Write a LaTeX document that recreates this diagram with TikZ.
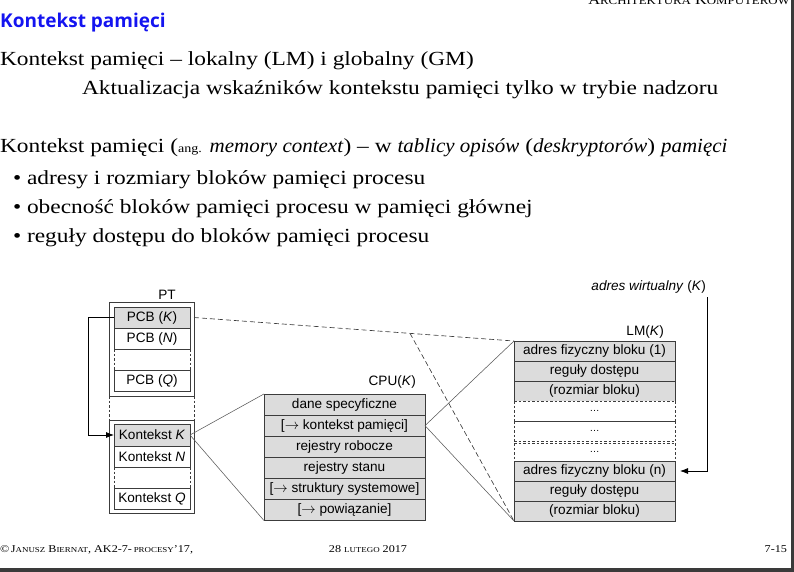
\documentclass[tikz,border=0pt]{standalone}
\usepackage{fontspec}
\setmainfont{Liberation Serif}[UprightFeatures={FakeStretch=1.17},ItalicFeatures={FakeStretch=1.05}]
\newfontfamily\diagfont{Liberation Sans}
\newfontfamily\headfont{Open Sans}
\usetikzlibrary{calc,arrows.meta}
\definecolor{cellgray}{HTML}{DCDCDC}
\definecolor{inkgray}{HTML}{3C3C3C}
\definecolor{headblue}{HTML}{1414F0}
\definecolor{edgegray}{HTML}{3A3A3A}
\newcommand\bodysize{\fontsize{20}{24}\selectfont}
\newcommand\diagsize{\diagfont\fontsize{13.6}{15}\selectfont}
\newcommand\lowcaps[1]{{\fontsize{7.6}{9}\selectfont #1}}
\begin{document}
\begin{tikzpicture}[x=1pt,y=-1pt,
  txt/.style={anchor=base west,inner sep=0,outer sep=0,font=\bodysize},
  foot/.style={anchor=base west,inner sep=0,outer sep=0,font=\fontsize{10.4}{12}\selectfont},
  lbl/.style={inner sep=0,outer sep=0,font=\diagsize},
  frame/.style={draw=inkgray,line width=0.7pt,inner sep=0,outer sep=0,minimum width=85pt,minimum height=#1},
  ptcell/.style={line width=0.7pt,minimum width=76pt,minimum height=#1,inner sep=0,outer sep=0,font=\diagsize},
  widecell/.style={line width=0.7pt,minimum width=161pt,minimum height=#1,inner sep=0,outer sep=0,font=\diagsize},
  solidcell/.style={draw=inkgray,fill=cellgray},
  side/.style={draw=inkgray,line width=0.7pt,dash pattern=on 2.5pt off 2pt},
  edge/.style={draw=inkgray,line width=0.7pt},
  cone/.style={draw=inkgray!85,line width=0.55pt},
  conedash/.style={draw=inkgray,line width=0.65pt,dash pattern=on 5pt off 3pt},
  pointer/.style={draw=black,line width=0.8pt,-{Latex[length=8pt,width=6pt]}}
]
\useasboundingbox (0,0) rectangle (794,572);

% page frame
\fill[edgegray] (791,0) rectangle (794,572);
\fill[edgegray] (0,568) rectangle (794,572);

% running head
\node[anchor=base east,inner sep=0] (head) at (790,5)
  {\fontsize{14}{16}\selectfont A{\fontsize{11}{13}\selectfont RCHITEKTURA} K{\fontsize{11}{13}\selectfont OMPUTERÓW}};

% title
\node[anchor=base west,inner sep=0,text=headblue] (title) at (0,28)
  {\headfont\bfseries\fontsize{19}{22}\selectfont Kontekst pamięci};

% body text
\node[txt] (l1) at (0,66) {Kontekst pamięci – lokalny (LM) i globalny (GM)};
\node[txt] (l2) at (82,95) {Aktualizacja wskaźników kontekstu pamięci tylko w trybie nadzoru};
\node[txt] (l3) at (0,153) {Kontekst pamięci ({\fontsize{12}{14}\selectfont ang.} \textit{memory context}) – w \textit{tablicy opisów} (\textit{deskryptorów}) \textit{pamięci}};
\node[txt] (b1) at (13,184) {• adresy i rozmiary bloków pamięci procesu};
\node[txt] (b2) at (13,213) {• obecność bloków pamięci procesu w pamięci głównej};
\node[txt] (b3) at (13,242) {• reguły dostępu do bloków pamięci procesu};

% ---- process table PT ----
\node[lbl] (ptlabel) at (167,295) {PT};
\node[frame=94pt] (ptup) at (151.5,349) {};
\node[frame=93pt] (ptlow) at (151.5,466.5) {};
\draw[side] (ptup.south west) -- (ptlow.north west);
\draw[side] (ptup.south east) -- (ptlow.north east);

\node[ptcell=21pt,solidcell] (pcbK) at (152,317.5) {PCB (\textit{K})};
\node[ptcell=21pt,draw=inkgray] (pcbN) at (152,338.5) {PCB (\textit{N})};
\node[ptcell=21pt] (pcbE) at (152,359.5) {};
\node[ptcell=21pt,draw=inkgray] (pcbQ) at (152,380.5) {PCB (\textit{Q})};
\draw[side] (pcbE.north west) -- (pcbE.south west);
\draw[side] (pcbE.north east) -- (pcbE.south east);

\node[ptcell=22pt,solidcell] (ctxK) at (152,435) {Kontekst \textit{K}};
\node[ptcell=21pt,draw=inkgray] (ctxN) at (152,456.5) {Kontekst \textit{N}};
\node[ptcell=21pt] (ctxE) at (152,477.5) {};
\node[ptcell=21pt,draw=inkgray] (ctxQ) at (152,498.5) {Kontekst \textit{Q}};
\draw[side] (ctxE.north west) -- (ctxE.south west);
\draw[side] (ctxE.north east) -- (ctxE.south east);

% PCB points to its context
\draw[pointer] (pcbK.west) -- ++(-26,0) |- (ctxK.west);

% ---- CPU(K) context ----
\node[lbl,anchor=east] (cpulabel) at (416,382) {CPU(\textit{K})};
\node[widecell=21.1pt,solidcell] (cpu1) at (344.5,404.5) {dane specyficzne};
\node[widecell=21.1pt,solidcell] (cpu2) at (344.5,425.6) {[$\rightarrow$ kontekst pamięci]};
\node[widecell=21.1pt,solidcell] (cpu3) at (344.5,446.7) {rejestry robocze};
\node[widecell=21.1pt,solidcell] (cpu4) at (344.5,467.8) {rejestry stanu};
\node[widecell=21.1pt,solidcell] (cpu5) at (344.5,488.9) {[$\rightarrow$ struktury systemowe]};
\node[widecell=21.1pt,solidcell] (cpu6) at (344.5,510) {[$\rightarrow$ powiązanie]};

% ---- LM(K) descriptor table ----
\node[lbl,anchor=east] (lmlabel) at (664,332) {LM(\textit{K})};
\node[widecell=20pt,solidcell] (lm1) at (594.5,351) {adres fizyczny bloku (1)};
\node[widecell=20pt,solidcell] (lm2) at (594.5,371) {reguły dostępu};
\node[widecell=20pt,fill=cellgray] (lm3) at (594.5,391) {(rozmiar bloku)};
\draw[edge] (lm3.south west) -- (lm3.north west) -- (lm3.north east) -- (lm3.south east);
\node[widecell=20pt] (lm4) at (594.5,411) {\fontsize{10}{12}\selectfont …};
\node[widecell=20pt] (lm5) at (594.5,431) {\fontsize{10}{12}\selectfont …};
\node[widecell=18pt] (lm6) at (594.5,452) {\fontsize{10}{12}\selectfont …};
\draw[side] (lm4.north west) -- (lm4.north east);
\draw[side] (lm4.north west) -- (lm4.south west);
\draw[side] (lm4.north east) -- (lm4.south east);
\draw[edge] (lm5.north west) -- (lm5.north east);
\draw[side] (lm5.north west) -- (lm5.south west);
\draw[side] (lm5.north east) -- (lm5.south east);
\draw[side] (lm5.south west) -- (lm5.south east);
\draw[side] (lm6.north west) -- (lm6.north east);
\draw[side] (lm6.north west) -- (lm6.south west);
\draw[side] (lm6.north east) -- (lm6.south east);
\node[widecell=20pt,solidcell] (lmn) at (594.5,471) {adres fizyczny bloku (n)};
\node[widecell=20pt,solidcell] (lmr) at (594.5,491) {reguły dostępu};
\node[widecell=20pt,solidcell] (lms) at (594.5,511) {(rozmiar bloku)};

% virtual address selects a descriptor
\node[lbl,anchor=east] (vaddr) at (706,287) {\textit{adres wirtualny} (\textit{K})};
\coordinate (vtop) at (707,297);
\draw[pointer,shorten >=5pt] (vtop) |- (lmn.east);

% zoom cones
\draw[cone] (ctxK.east) -- (cpu1.north west);
\draw[cone] (ctxK.east) -- (cpu6.south west);
\draw[cone] (cpu2.east) -- (lm1.north west);
\draw[cone] (cpu2.east) -- (lms.south west);
\coordinate (pkr) at (pcbK.east -| ptup.east);
\coordinate (split) at ($(pkr)!0.675!(lm1.north west)$);
\draw[conedash] (pkr) -- (lm1.north west);
\draw[conedash] (split) -- (lms.south west);

% footer
\node[foot] (footl) at (0,552) {©\,J\lowcaps{ANUSZ} B\lowcaps{IERNAT}, AK2-7-\,\lowcaps{PROCESY}’17,};
\node[foot,anchor=base] (footc) at (368,552) {28 \lowcaps{LUTEGO} 2017};
\node[foot,anchor=base east] (footr) at (787,552) {7-15};
\end{tikzpicture}
\end{document}
